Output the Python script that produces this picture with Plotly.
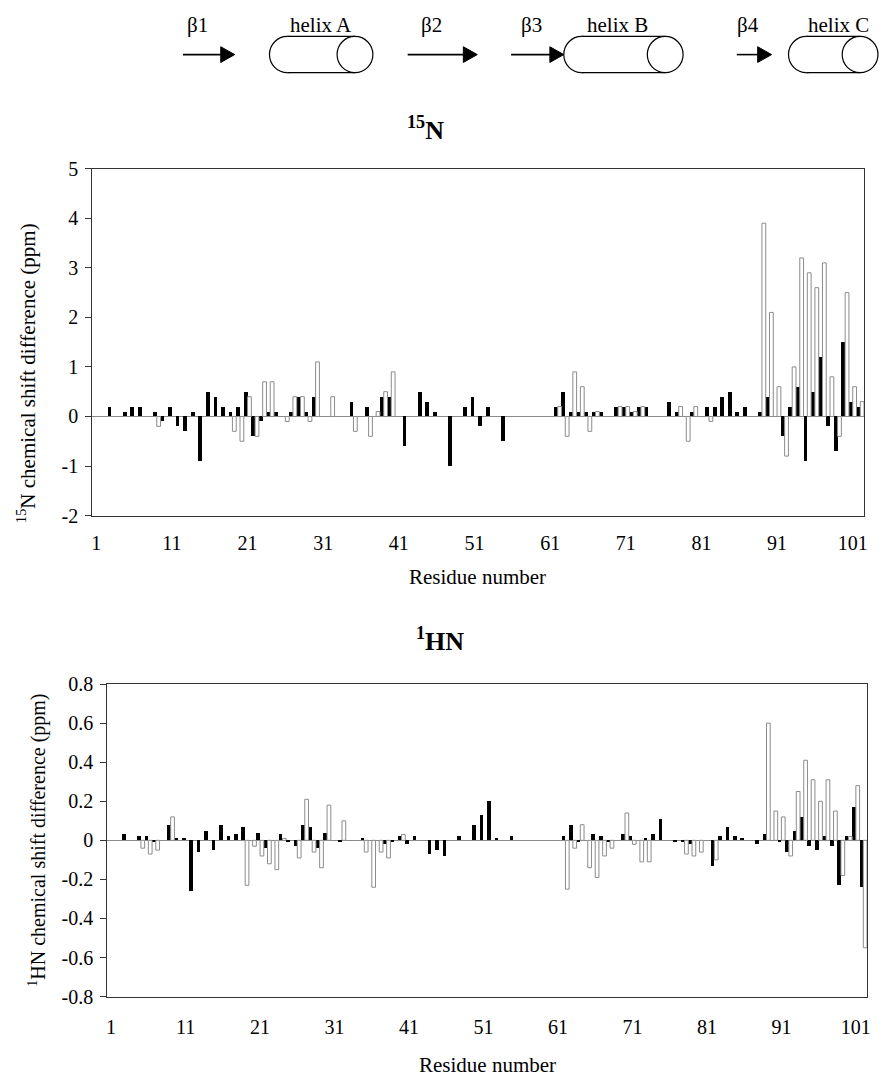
import plotly.graph_objects as go

W, H = 879, 1086

# ---------------- data ----------------
x_tickvals = [1, 11, 21, 31, 41, 51, 61, 71, 81, 91, 101]
x_ticktext = ["1", "11", "21", "31", "41", "51", "61", "71", "81", "91", "101"]

# 15N panel: black (filled) series
n15_black_res = [3, 5, 6, 7, 9, 10, 11, 12, 13, 14, 15, 16, 17, 18, 19, 20, 21, 22, 23, 24,
                 25, 27, 28, 29, 30, 35, 37, 39, 40, 42, 44, 45, 46, 48, 50, 51, 52, 53, 55,
                 62, 63, 64, 65, 66, 67, 68, 70, 71, 72, 73, 74, 77, 78, 80, 82, 83, 84, 85,
                 86, 87, 89, 90, 92, 93, 94, 95, 96, 97, 98, 99, 100, 101, 102]
n15_black_val = [0.2, 0.1, 0.2, 0.2, 0.1, -0.1, 0.2, -0.2, -0.3, 0.1, -0.9, 0.5, 0.4, 0.2, 0.1, 0.2, 0.5, -0.4, -0.1, 0.1,
                 0.1, 0.1, 0.4, 0.1, 0.4, 0.3, 0.2, 0.4, 0.4, -0.6, 0.5, 0.3, 0.1, -1.0, 0.2, 0.4, -0.2, 0.2, -0.5,
                 0.2, 0.5, 0.1, 0.1, 0.1, 0.1, 0.1, 0.2, 0.2, 0.1, 0.2, 0.2, 0.3, 0.1, 0.1, 0.2, 0.2, 0.4, 0.5,
                 0.1, 0.2, 0.1, 0.4, -0.4, 0.2, 0.6, -0.9, 0.5, 1.2, -0.2, -0.7, 1.5, 0.3, 0.2]

# 15N panel: white (open) series
n15_white_res = [9, 19, 20, 21, 22, 23, 24, 26, 27, 28, 29, 30, 32, 35, 37, 38, 39, 40,
                 62, 63, 64, 65, 66, 67, 70, 71, 72, 73, 78, 79, 80, 82,
                 89, 90, 91, 92, 93, 94, 95, 96, 97, 98, 99, 100, 101, 102]
n15_white_val = [-0.2, -0.3, -0.5, 0.4, -0.4, 0.7, 0.7, -0.1, 0.4, 0.4, -0.1, 1.1, 0.4, -0.3, -0.4, 0.1, 0.5, 0.9,
                 0.2, -0.4, 0.9, 0.6, -0.3, 0.1, 0.2, 0.2, 0.1, 0.2, 0.2, -0.5, 0.2, -0.1,
                 3.9, 2.1, 0.6, -0.8, 1.0, 3.2, 2.9, 2.6, 3.1, 0.8, -0.4, 2.5, 0.6, 0.3]

# 1HN panel: black (filled) series
hn_black_res = [3, 5, 6, 7, 9, 10, 11, 12, 13, 14, 15, 16, 17, 18, 19, 21, 22, 24, 25, 26,
                27, 28, 29, 30, 32, 35, 38, 39, 40, 41, 42, 44, 45, 46, 48, 50, 51, 52, 53, 55,
                62, 63, 64, 66, 67, 68, 70, 71, 73, 74, 75, 77, 78, 79, 82, 83, 84, 85, 86,
                88, 89, 91, 92, 93, 94, 95, 96, 97, 98, 99, 100, 101, 102]
hn_black_val = [0.03, 0.02, 0.02, -0.01, 0.08, 0.01, 0.01, -0.26, -0.06, 0.05, -0.05, 0.08, 0.02, 0.03, 0.07, 0.04, -0.04, 0.03, -0.01, -0.03,
                0.08, 0.07, -0.04, 0.04, -0.01, 0.01, -0.02, -0.01, 0.02, -0.02, 0.02, -0.07, -0.05, -0.08, 0.02, 0.08, 0.13, 0.20, 0.01, 0.02,
                0.02, 0.08, -0.01, 0.03, 0.02, -0.01, 0.03, 0.02, 0.01, 0.03, 0.11, -0.01, -0.01, -0.02, -0.13, 0.02, 0.07, 0.02, 0.01,
                -0.02, 0.03, -0.01, -0.06, 0.05, 0.12, -0.03, -0.05, 0.02, -0.03, -0.23, 0.02, 0.17, -0.24]

# 1HN panel: white (open) series
hn_white_res = [5, 6, 7, 9, 19, 20, 21, 22, 23, 24, 26, 27, 28, 29, 30, 32, 35, 36, 37, 38, 40,
                62, 63, 64, 65, 66, 67, 68, 70, 71, 72, 73, 78, 79, 80, 82,
                89, 90, 91, 92, 93, 94, 95, 96, 97, 98, 99, 100, 101, 102]
hn_white_val = [-0.04, -0.07, -0.05, 0.12, -0.23, -0.03, -0.08, -0.12, -0.15, 0.01, -0.09, 0.21, -0.06, -0.14, 0.18, 0.10, -0.06, -0.24, -0.06, -0.09, 0.03,
                -0.25, -0.04, 0.08, -0.14, -0.19, -0.08, -0.04, 0.14, -0.02, -0.11, -0.11, -0.07, -0.08, -0.06, -0.10,
                0.60, 0.15, 0.12, -0.08, 0.25, 0.41, 0.31, 0.20, 0.31, 0.15, -0.18, 0.02, 0.28, -0.55]

n15_ytickvals = [-2, -1, 0, 1, 2, 3, 4, 5]
n15_yticktext = ["-2", "-1", "0", "1", "2", "3", "4", "5"]
hn_ytickvals = [-0.8, -0.6, -0.4, -0.2, 0, 0.2, 0.4, 0.6, 0.8]
hn_yticktext = ["-0.8", "-0.6", "-0.4", "-0.2", "0", "0.2", "0.4", "0.6", "0.8"]

# secondary structure labels
ss_labels = ["\u03b21", "helix A", "\u03b22", "\u03b23", "helix B", "\u03b24", "helix C"]

# ---------------- figure ----------------
FONT = "Liberation Serif, Times New Roman, serif"
GRAY_EDGE = "#8c8c8c"
FRAME = "#333333"


def px(x):
    return x / W


def py(y):
    return 1 - y / H


fig = go.Figure()

fig.add_trace(go.Bar(x=n15_black_res, y=n15_black_val, xaxis="x", yaxis="y",
                     marker=dict(color="black", line=dict(width=0)), offsetgroup="a"))
fig.add_trace(go.Bar(x=n15_white_res, y=n15_white_val, xaxis="x", yaxis="y",
                     marker=dict(color="white", line=dict(color=GRAY_EDGE, width=1)), offsetgroup="b"))
fig.add_trace(go.Bar(x=hn_black_res, y=hn_black_val, xaxis="x2", yaxis="y2",
                     marker=dict(color="black", line=dict(width=0)), offsetgroup="a"))
fig.add_trace(go.Bar(x=hn_white_res, y=hn_white_val, xaxis="x2", yaxis="y2",
                     marker=dict(color="white", line=dict(color=GRAY_EDGE, width=1)), offsetgroup="b"))

tickfont = dict(family=FONT, size=20, color="black")

common_x = dict(range=[0.5, 102.5], tickmode="array", tickvals=x_tickvals, ticktext=x_ticktext,
                ticks="", showline=True, mirror=True, linecolor=FRAME, linewidth=1.2,
                showgrid=False, zeroline=False, tickfont=tickfont)
common_y = dict(tickmode="array", ticks="outside", ticklen=6, tickwidth=1, tickcolor=FRAME,
                showline=True, mirror=True, linecolor=FRAME, linewidth=1.2, showgrid=False,
                zeroline=True, zerolinecolor="#8a8a8a", zerolinewidth=1, tickfont=tickfont,
                ticklabelstandoff=3)

fig.update_layout(
    width=W, height=H,
    margin=dict(l=0, r=0, t=0, b=0),
    paper_bgcolor="white", plot_bgcolor="white",
    showlegend=False,
    barmode="group", bargap=0, bargroupgap=0,
    xaxis=dict(domain=[px(92), px(868)], anchor="y", ticklabelstandoff=9, **common_x),
    yaxis=dict(domain=[py(515), py(161)], anchor="x", range=[-2, 5],
               tickvals=n15_ytickvals, ticktext=n15_yticktext, **common_y),
    xaxis2=dict(domain=[px(107), px(871)], anchor="y2", ticklabelstandoff=12, **common_x),
    yaxis2=dict(domain=[py(1006), py(687)], anchor="x2", range=[-0.8, 0.8],
                tickvals=hn_ytickvals, ticktext=hn_yticktext, **common_y),
)

ann = []


def add_text(text, x, y, size, bold=False, angle=0):
    ann.append(dict(text=("<b>%s</b>" % text) if bold else text, x=px(x), y=py(y),
                    xref="paper", yref="paper", showarrow=False, textangle=angle,
                    xanchor="center", yanchor="middle",
                    font=dict(family=FONT, size=size, color="black")))


add_text("<sup>15</sup>N", 427, 120, 26, bold=True)
add_text("<sup>1</sup>HN", 442, 642, 26, bold=True)
add_text("Residue number", 479, 578, 21)
add_text("Residue number", 489, 1076, 21)
add_text("<sup>15</sup>N chemical shift difference (ppm)", 26, 370, 21, angle=-90)
add_text("<sup>1</sup>HN chemical shift difference (ppm)", 37, 846, 20, angle=-90)

# secondary-structure header
label_x = [198, 322, 433, 534, 620, 751, 842]
for t, lx in zip(ss_labels, label_x):
    add_text(t, lx, 14, 21)

shapes = []
Y0, Y1 = 26, 63
YM = (Y0 + Y1) / 2


def arrow(x0, x1):
    shapes.append(dict(type="line", xref="paper", yref="paper", x0=px(x0), x1=px(x1 - 12),
                       y0=py(YM), y1=py(YM), line=dict(color="black", width=1.6)))
    path = "M %f %f L %f %f L %f %f Z" % (px(x1 - 14), py(YM - 8), px(x1), py(YM), px(x1 - 14), py(YM + 8))
    shapes.append(dict(type="path", xref="paper", yref="paper", path=path,
                       fillcolor="black", line=dict(color="black", width=1)))


def cylinder(x0, x1, rx=18):
    lc = dict(color="black", width=1.2)
    # left cap
    shapes.append(dict(type="circle", xref="paper", yref="paper", x0=px(x0), x1=px(x0 + 2 * rx),
                       y0=py(Y1), y1=py(Y0), fillcolor="white", line=lc))
    # body
    shapes.append(dict(type="rect", xref="paper", yref="paper", x0=px(x0 + rx), x1=px(x1 - rx),
                       y0=py(Y1), y1=py(Y0), fillcolor="white", line=dict(width=0)))
    shapes.append(dict(type="line", xref="paper", yref="paper", x0=px(x0 + rx), x1=px(x1 - rx),
                       y0=py(Y0), y1=py(Y0), line=lc))
    shapes.append(dict(type="line", xref="paper", yref="paper", x0=px(x0 + rx), x1=px(x1 - rx),
                       y0=py(Y1), y1=py(Y1), line=lc))
    # right end face
    shapes.append(dict(type="circle", xref="paper", yref="paper", x0=px(x1 - 2 * rx), x1=px(x1),
                       y0=py(Y1), y1=py(Y0), fillcolor="white", line=lc))


arrow(183, 235)
cylinder(270, 374)
arrow(409, 479)
arrow(513, 566)
cylinder(566, 686)
arrow(740, 775)
cylinder(792, 882)

fig.update_layout(annotations=ann, shapes=shapes)

fig.write_html("out.html", config={"displayModeBar": False, "staticPlot": True},
               post_script="document.body.style.margin='0';document.body.style.overflow='hidden';")
